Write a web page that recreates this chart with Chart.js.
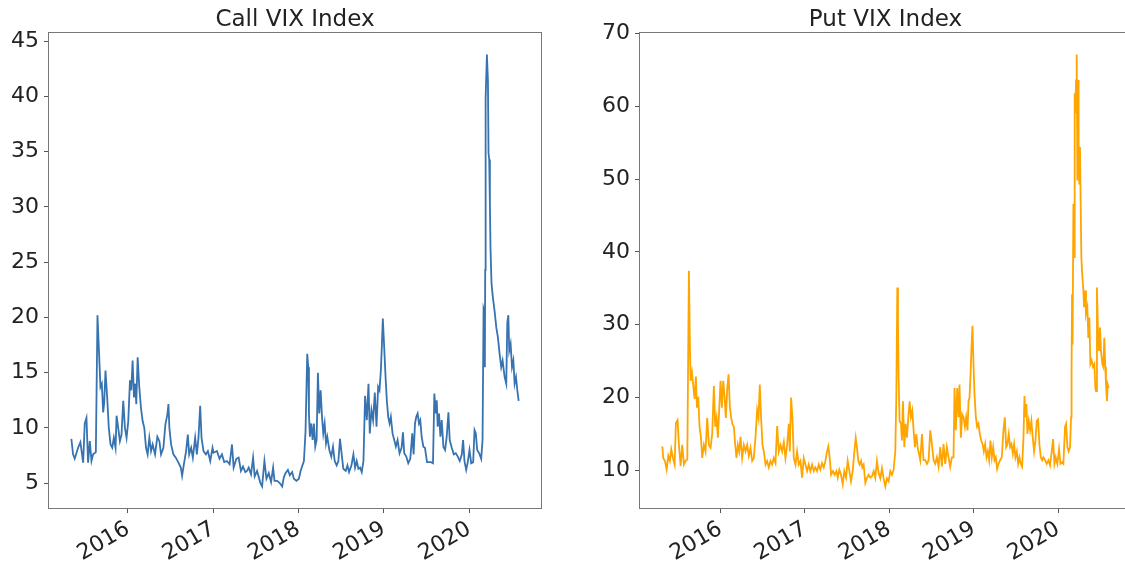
<!DOCTYPE html>
<html>
<head>
<meta charset="utf-8">
<script src="https://cdn.jsdelivr.net/npm/chart.js@4.4.1/dist/chart.umd.min.js"></script>
<style>
  html, body { margin: 0; padding: 0; background: #fff; overflow: hidden; }
  body { width: 1125px; height: 565px; position: relative; }
  canvas { position: absolute; top: 0; }
  #callChart { left: 0; }
  #putChart { left: 560px; }
</style>
</head>
<body>
<canvas id="callChart" width="560" height="565"></canvas>
<canvas id="putChart" width="600" height="565"></canvas>
<script>
// dates are decimal years
const callYears = [
  2015.337, 2015.357, 2015.376, 2015.416, 2015.443, 2015.475, 2015.494, 2015.514, 2015.533, 2015.553,
  2015.573, 2015.592, 2015.624, 2015.643, 2015.663, 2015.678, 2015.694, 2015.71, 2015.722, 2015.737,
  2015.757, 2015.776, 2015.796, 2015.816, 2015.835, 2015.855, 2015.867, 2015.886, 2015.906, 2015.925,
  2015.945, 2015.965, 2015.984, 2016.004, 2016.024, 2016.039, 2016.055, 2016.071, 2016.086, 2016.098,
  2016.114, 2016.133, 2016.153, 2016.173, 2016.192, 2016.212, 2016.231, 2016.251, 2016.271, 2016.29,
  2016.318, 2016.345, 2016.369, 2016.388, 2016.416, 2016.439, 2016.463, 2016.475, 2016.486, 2016.506,
  2016.533, 2016.561, 2016.592, 2016.62, 2016.635, 2016.659, 2016.682, 2016.702, 2016.718, 2016.741,
  2016.761, 2016.788, 2016.808, 2016.827, 2016.847, 2016.863, 2016.886, 2016.914, 2016.937, 2016.965,
  2016.992, 2017.004, 2017.043, 2017.074, 2017.102, 2017.129, 2017.161, 2017.192, 2017.22, 2017.239,
  2017.271, 2017.298, 2017.325, 2017.349, 2017.376, 2017.396, 2017.416, 2017.443, 2017.467, 2017.486,
  2017.514, 2017.553, 2017.573, 2017.6, 2017.624, 2017.651, 2017.678, 2017.702, 2017.718, 2017.749,
  2017.78, 2017.808, 2017.827, 2017.847, 2017.875, 2017.898, 2017.925, 2017.945, 2017.976, 2018.004,
  2018.024, 2018.063, 2018.082, 2018.102, 2018.114, 2018.122, 2018.133, 2018.149, 2018.165, 2018.18,
  2018.196, 2018.212, 2018.227, 2018.243, 2018.259, 2018.275, 2018.29, 2018.306, 2018.322, 2018.337,
  2018.361, 2018.384, 2018.404, 2018.424, 2018.447, 2018.467, 2018.486, 2018.506, 2018.525, 2018.553,
  2018.573, 2018.592, 2018.62, 2018.643, 2018.663, 2018.682, 2018.702, 2018.722, 2018.741, 2018.761,
  2018.78, 2018.8, 2018.82, 2018.835, 2018.855, 2018.874, 2018.894, 2018.914, 2018.933, 2018.949,
  2018.965, 2018.976, 2018.988, 2019.004, 2019.02, 2019.035, 2019.051, 2019.067, 2019.082, 2019.102,
  2019.122, 2019.141, 2019.161, 2019.184, 2019.208, 2019.224, 2019.239, 2019.263, 2019.286, 2019.31,
  2019.333, 2019.349, 2019.365, 2019.38, 2019.396, 2019.412, 2019.427, 2019.443, 2019.463, 2019.482,
  2019.506, 2019.53, 2019.553, 2019.576, 2019.592, 2019.608, 2019.62, 2019.631, 2019.647, 2019.663,
  2019.678, 2019.698, 2019.718, 2019.737, 2019.757, 2019.772, 2019.796, 2019.82, 2019.843, 2019.867,
  2019.89, 2019.914, 2019.929, 2019.945, 2019.965, 2019.984, 2020.004, 2020.024, 2020.047, 2020.063,
  2020.078, 2020.094, 2020.118, 2020.141, 2020.157, 2020.169, 2020.176, 2020.184, 2020.188, 2020.19,
  2020.196, 2020.208, 2020.22, 2020.227, 2020.235, 2020.243, 2020.25, 2020.262, 2020.278, 2020.298,
  2020.318, 2020.337, 2020.357, 2020.376, 2020.392, 2020.416, 2020.435, 2020.447, 2020.459, 2020.47,
  2020.486, 2020.502, 2020.518, 2020.533, 2020.549, 2020.565, 2020.58
];
const callValues = [
  9.0, 7.6, 7.2, 8.2, 8.7, 6.85, 10.4, 10.9, 6.85, 8.8,
  7.0, 7.6, 7.8, 20.2, 16.5, 13.7, 14.0, 11.4, 12.3, 15.2,
  12.75, 10.0, 8.5, 8.2, 9.1, 8.2, 11.1, 10.0, 8.8, 9.4,
  12.45, 10.0, 9.1, 10.6, 14.3, 13.4, 16.1, 12.75, 14.0, 12.15,
  16.4, 13.7, 11.8, 10.6, 10.0, 8.2, 7.6, 9.1, 7.9, 8.5,
  7.6, 9.2, 8.8, 7.6, 8.2, 10.3, 11.25, 12.15, 10.0, 8.5,
  7.6, 7.3, 6.85, 6.4, 5.65, 6.85, 7.9, 9.4, 7.6, 8.2,
  7.3, 9.1, 7.6, 9.1, 12.0, 9.1, 7.9, 7.6, 7.9, 7.0,
  8.2, 7.75, 7.9, 7.2, 7.6, 6.9, 7.0, 6.7, 8.5, 6.4,
  7.2, 7.3, 6.1, 6.5, 6.0, 6.1, 6.4, 5.8, 7.3, 5.6,
  6.1, 5.0, 4.7, 7.0, 5.4, 5.9, 5.1, 6.4, 5.2, 5.2,
  5.0, 4.7, 5.5, 5.9, 6.2, 5.7, 6.0, 5.4, 5.2, 5.4,
  6.1, 7.0, 9.7, 16.7, 15.5, 11.3, 9.2, 10.4, 8.9, 10.4,
  8.3, 8.9, 15.0, 11.3, 13.4, 11.0, 9.5, 10.4, 8.6, 9.2,
  8.0, 7.4, 8.3, 7.0, 6.6, 7.0, 9.0, 7.6, 6.3, 6.1,
  6.6, 6.0, 6.6, 7.6, 6.4, 7.0, 6.3, 6.4, 6.0, 7.0,
  12.9, 10.7, 14.0, 9.5, 11.6, 10.7, 13.2, 10.1, 13.7, 13.4,
  15.2, 17.3, 19.9, 17.3, 14.6, 12.5, 11.0, 10.4, 11.0, 9.5,
  8.9, 8.3, 8.9, 7.7, 8.2, 9.6, 7.7, 7.4, 6.8, 7.2,
  9.5, 7.6, 10.4, 11.0, 11.3, 10.4, 10.7, 9.2, 8.3, 8.2,
  6.9, 6.9, 6.9, 6.8, 13.1, 11.3, 12.5, 10.1, 11.3, 9.2,
  10.7, 8.3, 8.0, 9.2, 11.4, 8.9, 8.2, 7.6, 7.7, 7.4,
  7.0, 7.6, 8.9, 7.0, 6.2, 6.9, 8.0, 6.8, 6.9, 9.8,
  9.5, 8.0, 7.7, 7.2, 8.9, 20.8, 20.6, 15.5, 24.3, 29.4,
  39.9, 43.8, 41.5, 34.9, 34.3, 30.3, 26.3, 23.1, 21.8, 20.6,
  19.1, 18.2, 16.7, 15.5, 16.1, 14.6, 14.0, 19.5, 20.2, 17.0,
  17.6, 15.5, 16.1, 14.0, 14.6, 13.4, 12.45
];

const putYears = [
  2015.31, 2015.321, 2015.341, 2015.361, 2015.381, 2015.40, 2015.416, 2015.436, 2015.456, 2015.471,
  2015.491, 2015.507, 2015.527, 2015.546, 2015.566, 2015.586, 2015.606, 2015.625, 2015.637, 2015.645,
  2015.661, 2015.677, 2015.692, 2015.708, 2015.72, 2015.736, 2015.751, 2015.767, 2015.783, 2015.803,
  2015.822, 2015.842, 2015.862, 2015.882, 2015.901, 2015.921, 2015.937, 2015.953, 2015.968, 2015.984,
  2016.0, 2016.016, 2016.032, 2016.047, 2016.063, 2016.079, 2016.095, 2016.11, 2016.126, 2016.142,
  2016.158, 2016.174, 2016.189, 2016.205, 2016.221, 2016.237, 2016.256, 2016.276, 2016.296, 2016.316,
  2016.335, 2016.355, 2016.375, 2016.394, 2016.414, 2016.434, 2016.45, 2016.465, 2016.481, 2016.497,
  2016.513, 2016.533, 2016.552, 2016.572, 2016.592, 2016.611, 2016.631, 2016.651, 2016.671, 2016.69,
  2016.71, 2016.73, 2016.75, 2016.769, 2016.789, 2016.809, 2016.821, 2016.836, 2016.852, 2016.868,
  2016.888, 2016.907, 2016.927, 2016.947, 2016.966, 2016.986, 2017.006, 2017.026, 2017.045, 2017.065,
  2017.085, 2017.105, 2017.124, 2017.144, 2017.164, 2017.183, 2017.203, 2017.223, 2017.243, 2017.262,
  2017.278, 2017.294, 2017.31, 2017.333, 2017.353, 2017.373, 2017.389, 2017.408, 2017.428, 2017.448,
  2017.467, 2017.487, 2017.507, 2017.527, 2017.546, 2017.566, 2017.586, 2017.602, 2017.617, 2017.633,
  2017.649, 2017.665, 2017.68, 2017.696, 2017.716, 2017.736, 2017.755, 2017.775, 2017.795, 2017.815,
  2017.834, 2017.854, 2017.874, 2017.894, 2017.913, 2017.933, 2017.953, 2017.972, 2017.992, 2018.012,
  2018.032, 2018.051, 2018.071, 2018.083, 2018.095, 2018.103, 2018.11, 2018.122, 2018.138, 2018.15,
  2018.162, 2018.178, 2018.193, 2018.209, 2018.225, 2018.241, 2018.256, 2018.272, 2018.288, 2018.304,
  2018.32, 2018.335, 2018.351, 2018.367, 2018.387, 2018.406, 2018.426, 2018.446, 2018.466, 2018.485,
  2018.505, 2018.525, 2018.544, 2018.564, 2018.584, 2018.604, 2018.623, 2018.643, 2018.663, 2018.682,
  2018.702, 2018.722, 2018.742, 2018.761, 2018.773, 2018.789, 2018.805, 2018.821, 2018.832, 2018.848,
  2018.864, 2018.88, 2018.896, 2018.911, 2018.927, 2018.939, 2018.951, 2018.963, 2018.974, 2018.986,
  2018.998, 2019.01, 2019.026, 2019.041, 2019.057, 2019.073, 2019.089, 2019.105, 2019.12, 2019.136,
  2019.152, 2019.168, 2019.183, 2019.199, 2019.215, 2019.231, 2019.247, 2019.262, 2019.278, 2019.294,
  2019.314, 2019.333, 2019.353, 2019.369, 2019.385, 2019.4, 2019.416, 2019.432, 2019.448, 2019.464,
  2019.479, 2019.495, 2019.511, 2019.527, 2019.542, 2019.558, 2019.574, 2019.59, 2019.602, 2019.613,
  2019.625, 2019.637, 2019.653, 2019.669, 2019.684, 2019.7, 2019.716, 2019.732, 2019.748, 2019.763,
  2019.779, 2019.795, 2019.811, 2019.826, 2019.846, 2019.866, 2019.886, 2019.905, 2019.925, 2019.941,
  2019.957, 2019.972, 2019.992, 2020.012, 2020.028, 2020.047, 2020.063, 2020.083, 2020.095, 2020.111,
  2020.126, 2020.142, 2020.154, 2020.16, 2020.166, 2020.172, 2020.182, 2020.19, 2020.197, 2020.205,
  2020.213, 2020.221, 2020.229, 2020.237, 2020.244, 2020.252, 2020.26, 2020.268, 2020.276, 2020.284,
  2020.3, 2020.308, 2020.32, 2020.331, 2020.347, 2020.359, 2020.371, 2020.383, 2020.398, 2020.414,
  2020.43, 2020.442, 2020.45, 2020.461, 2020.473, 2020.485, 2020.497, 2020.509, 2020.525, 2020.537,
  2020.548, 2020.56, 2020.568, 2020.58, 2020.588, 2020.6
];
const putValues = [
  13.3, 11.7, 11.3, 10.1, 12.0, 11.3, 12.9, 11.7, 10.8, 16.5,
  16.9, 13.5, 10.6, 13.5, 10.8, 11.3, 11.5, 37.4, 27.3, 22.3,
  23.5, 21.6, 19.8, 22.9, 18.6, 20.1, 16.0, 14.6, 11.7, 13.5,
  12.6, 17.2, 13.5, 13.1, 15.0, 21.6, 16.0, 17.2, 14.5, 18.3,
  22.3, 18.6, 22.3, 20.1, 17.2, 21.2, 23.2, 18.8, 17.2, 16.3,
  16.0, 13.5, 11.7, 13.5, 12.6, 14.6, 11.7, 13.5, 12.6, 13.5,
  12.0, 13.1, 11.3, 11.7, 14.5, 18.3, 17.2, 21.8, 17.2, 13.5,
  12.6, 10.8, 11.3, 10.4, 11.3, 10.8, 11.7, 11.0, 16.1, 12.6,
  13.5, 12.6, 13.9, 11.7, 13.5, 16.4, 12.6, 20.0, 17.2, 11.7,
  10.8, 12.6, 10.8, 11.3, 9.0, 11.7, 10.8, 9.9, 10.8, 9.9,
  10.8, 9.9, 10.4, 9.9, 10.8, 10.1, 11.0, 10.4, 11.3, 12.6,
  13.3, 11.7, 9.4, 9.9, 9.4, 9.9, 9.0, 10.1, 9.4, 8.1,
  9.9, 9.0, 11.3, 9.9, 8.5, 9.9, 12.6, 14.45, 13.1, 11.3,
  10.8, 11.3, 10.4, 10.8, 8.3, 9.0, 9.4, 9.0, 9.2, 9.9,
  9.0, 11.3, 9.6, 8.9, 10.3, 8.9, 7.8, 8.9, 8.5, 9.9,
  9.4, 10.1, 12.6, 20.0, 35.1, 30.1, 22.8, 16.8, 16.4, 14.1,
  19.5, 13.2, 16.4, 14.5, 17.3, 19.5, 17.3, 18.2, 15.5, 13.2,
  15.0, 13.2, 12.3, 11.4, 15.0, 11.4, 11.4, 10.9, 11.4, 15.5,
  13.6, 11.4, 10.9, 11.8, 10.5, 13.2, 10.5, 13.6, 10.9, 13.2,
  11.8, 10.5, 11.8, 11.8, 21.3, 15.5, 21.3, 17.3, 21.8, 14.5,
  17.7, 17.3, 16.0, 17.3, 15.5, 19.5, 20.0, 23.2, 26.9, 29.85,
  24.5, 20.4, 17.3, 16.0, 16.4, 15.0, 14.1, 13.6, 12.6, 13.6,
  11.8, 12.6, 11.4, 14.1, 11.8, 13.2, 11.4, 11.8, 10.2, 10.9,
  11.4, 11.8, 15.5, 17.3, 13.2, 13.6, 15.0, 13.2, 13.6, 12.3,
  13.6, 11.8, 12.6, 10.9, 11.8, 10.9, 10.5, 14.5, 20.2, 17.3,
  19.1, 15.0, 16.8, 15.5, 16.8, 14.5, 12.6, 14.1, 16.8, 17.0,
  13.6, 11.8, 11.4, 11.8, 11.4, 10.9, 11.4, 10.7, 12.6, 14.3,
  10.9, 11.8, 10.9, 12.9, 10.9, 11.1, 10.9, 16.0, 16.4, 13.2,
  12.6, 13.2, 17.3, 23.6, 34.2, 27.3, 46.6, 39.3, 61.8, 59.0,
  63.6, 67.1, 49.8, 63.6, 54.9, 49.4, 54.4, 46.6, 39.3, 37.4,
  34.7, 32.4, 34.7, 31.5, 32.4, 28.2, 31.0, 24.6, 25.1, 24.2,
  24.6, 21.3, 20.9, 35.1, 29.2, 26.4, 29.6, 26.4, 24.6, 24.2,
  28.2, 24.2, 21.8, 19.5, 21.8, 21.3
];

const yearTicks = [2016, 2017, 2018, 2019, 2020];
const callTicks = [5, 10, 15, 20, 25, 30, 35, 40, 45];
const putTicks = [10, 20, 30, 40, 50, 60, 70];

Chart.defaults.font.family = '"DejaVu Sans", sans-serif';
Chart.defaults.color = '#222';

// matplotlib-like 5% margin around the data
function padded(arr) {
  const lo = Math.min(...arr);
  const hi = Math.max(...arr);
  const m = (hi - lo) * 0.05;
  return [lo - m, hi + m];
}

const framePlugin = {
  id: 'frame',
  afterDatasetsDraw(chart) {
    const { ctx, chartArea: a } = chart;
    ctx.save();
    ctx.strokeStyle = '#777';
    ctx.lineWidth = 1;
    ctx.strokeRect(Math.round(a.left) - 0.5, Math.round(a.top) - 0.5,
      Math.round(a.right - a.left) + 1, Math.round(a.bottom - a.top) + 1);
    ctx.restore();
  }
};

function makeChart(id, title, years, values, color, yTicks, yAxisWidth, padRight) {
  const xr = padded(years);
  const yr = padded(values);
  return new Chart(document.getElementById(id), {
    type: 'line',
    data: {
      datasets: [{
        data: years.map((x, i) => ({ x, y: values[i] })),
        borderColor: color,
        borderWidth: 1.8,
        pointRadius: 0,
        tension: 0,
        fill: false
      }]
    },
    options: {
      responsive: false,
      animation: false,
      layout: { padding: { left: 0, right: padRight, top: 0, bottom: 0 } },
      plugins: {
        legend: { display: false },
        tooltip: { enabled: false },
        title: {
          display: true,
          text: title,
          fullSize: false,
          color: '#222',
          font: { size: 23, weight: 'normal', lineHeight: 1.1 },
          padding: { top: 7, bottom: 0.7 }
        }
      },
      scales: {
        x: {
          type: 'linear',
          min: xr[0],
          max: xr[1],
          afterBuildTicks: (s) => { s.ticks = yearTicks.map((v) => ({ value: v })); },
          afterFit: (s) => { s.height = 57; },
          border: { display: false },
          grid: { drawOnChartArea: false, tickLength: 5, color: '#555' },
          ticks: {
            autoSkip: false,
            minRotation: 30,
            maxRotation: 30,
            padding: 3,
            color: '#222',
            font: { size: 22 },
            callback: (v) => String(v)
          }
        },
        y: {
          min: yr[0],
          max: yr[1],
          afterBuildTicks: (s) => { s.ticks = yTicks.map((v) => ({ value: v })); },
          afterFit: (s) => { s.width = yAxisWidth; },
          border: { display: false },
          grid: { drawOnChartArea: false, tickLength: 5, color: '#555' },
          ticks: { padding: 5, color: '#222', font: { size: 22 } }
        }
      }
    },
    plugins: [framePlugin]
  });
}

makeChart('callChart', 'Call VIX Index', callYears, callValues, '#3673b0', callTicks, 49, 19);
makeChart('putChart', 'Put VIX Index', putYears, putValues, '#ffa500', putTicks, 80, 29);
</script>
</body>
</html>
